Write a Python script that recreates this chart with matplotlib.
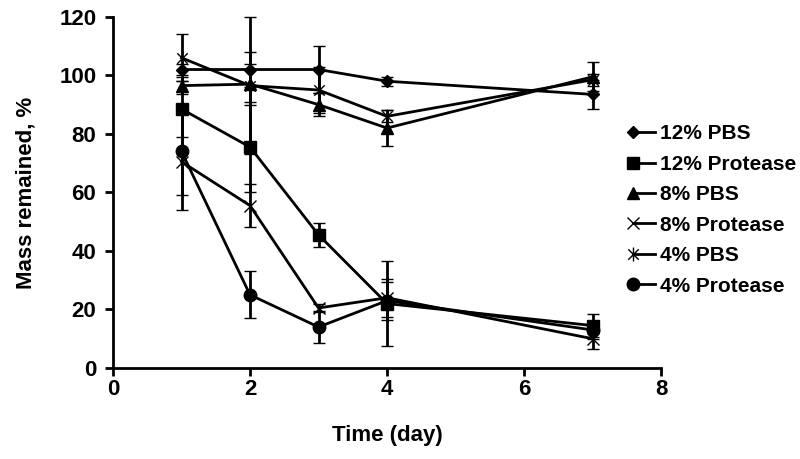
import matplotlib
matplotlib.use("Agg")
import matplotlib.pyplot as plt
from matplotlib.path import Path
from matplotlib.lines import Line2D
from matplotlib.legend_handler import HandlerLine2D

plt.rcParams['font.family'] = ['Liberation Sans', 'DejaVu Sans']
plt.rcParams['font.weight'] = 'bold'

days = [1, 2, 3, 4, 7]
labels = ["12% PBS", "12% Protease", "8% PBS", "8% Protease", "4% PBS", "4% Protease"]
pbs12 = [102, 102, 102, 98, 93.5]
pbs12_err = [2, 6, 8, 1.5, 5]
prot12 = [88.5, 75.5, 45.5, 22, 14.5]
prot12_err = [9.5, 15.5, 4, 14.5, 4]
pbs8 = [96.5, 97, 90, 82, 99.5]
pbs8_err = [3, 7, 4, 6, 5]
prot8 = [70.5, 55.5, 20.5, 24, 10]
prot8_err = [16.5, 7.25, 1.5, 6.5, 3.5]
pbs4 = [106, 96.5, 95, 86, 98.5]
pbs4_err = [8, 23.5, 8, 2, 2]
prot4 = [74, 25, 14, 23, 13]
prot4_err = [15, 8, 5.5, 6.5, 3]

values = [pbs12, prot12, pbs8, prot8, pbs4, prot4]
errors = [pbs12_err, prot12_err, pbs8_err, prot8_err, pbs4_err, prot4_err]

asterisk = Path([(0, -1), (0, 1), (-0.75, -0.75), (0.75, 0.75), (-0.75, 0.75), (0.75, -0.75)],
                [Path.MOVETO, Path.LINETO, Path.MOVETO, Path.LINETO, Path.MOVETO, Path.LINETO])
markers = ['D', 's', '^', 'x', asterisk, 'o']
msizes = [6.5, 8.5, 9, 9, 10, 9]
mews = [1, 1, 1, 1.0, 1.0, 1]


class LeftMarkerHandler(HandlerLine2D):
    def create_artists(self, legend, orig_handle, xdescent, ydescent, width, height,
                       fontsize, trans):
        y = height / 2 - ydescent
        line = Line2D([-xdescent, -xdescent + width], [y, y])
        self.update_prop(line, orig_handle, legend)
        line.set_marker('None')
        mk = Line2D([-xdescent], [y])
        self.update_prop(mk, orig_handle, legend)
        mk.set_linestyle('None')
        line.set_transform(trans)
        mk.set_transform(trans)
        return [line, mk]


fig = plt.figure(figsize=(8, 4.59), dpi=100)
ax = fig.add_axes([0.14125, 0.1983, 0.685, 0.765])

handles = []
for v, e, m, ms, mew, lab in zip(values, errors, markers, msizes, mews, labels):
    ax.errorbar(days, v, yerr=e, color='black', lw=2, elinewidth=2, capsize=4.5, capthick=2,
                marker=m, ms=ms, mew=mew, mfc='black', mec='black', clip_on=False)
    handles.append(Line2D([0, 1], [0, 0], color='black', lw=2, marker=m, ms=ms, mew=mew,
                          mfc='black', mec='black', label=lab))

ax.set_xlim(0, 8)
ax.set_ylim(0, 120)
ax.set_xticks([0, 2, 4, 6, 8])
ax.set_yticks([0, 20, 40, 60, 80, 100, 120])
for s in ['top', 'right']:
    ax.spines[s].set_visible(False)
for s in ['left', 'bottom']:
    ax.spines[s].set_linewidth(2)
ax.tick_params(direction='out', length=6, width=2, labelsize=16)
ax.tick_params(axis='x', pad=2)
ax.tick_params(axis='y', pad=6)
ax.set_xlabel("Time (day)", fontsize=16, fontweight='bold', labelpad=18)
ax.set_ylabel("Mass remained, %", fontsize=16, fontweight='bold', labelpad=16)

fig.legend(handles=handles, loc='center left', bbox_to_anchor=(633 / 800, 1 - 210 / 459),
           frameon=False, fontsize=15, handlelength=1.05, handletextpad=0.25,
           borderpad=0, borderaxespad=0, labelspacing=0.55,
           handler_map={Line2D: LeftMarkerHandler()})

fig.savefig("out.png", dpi=100)
